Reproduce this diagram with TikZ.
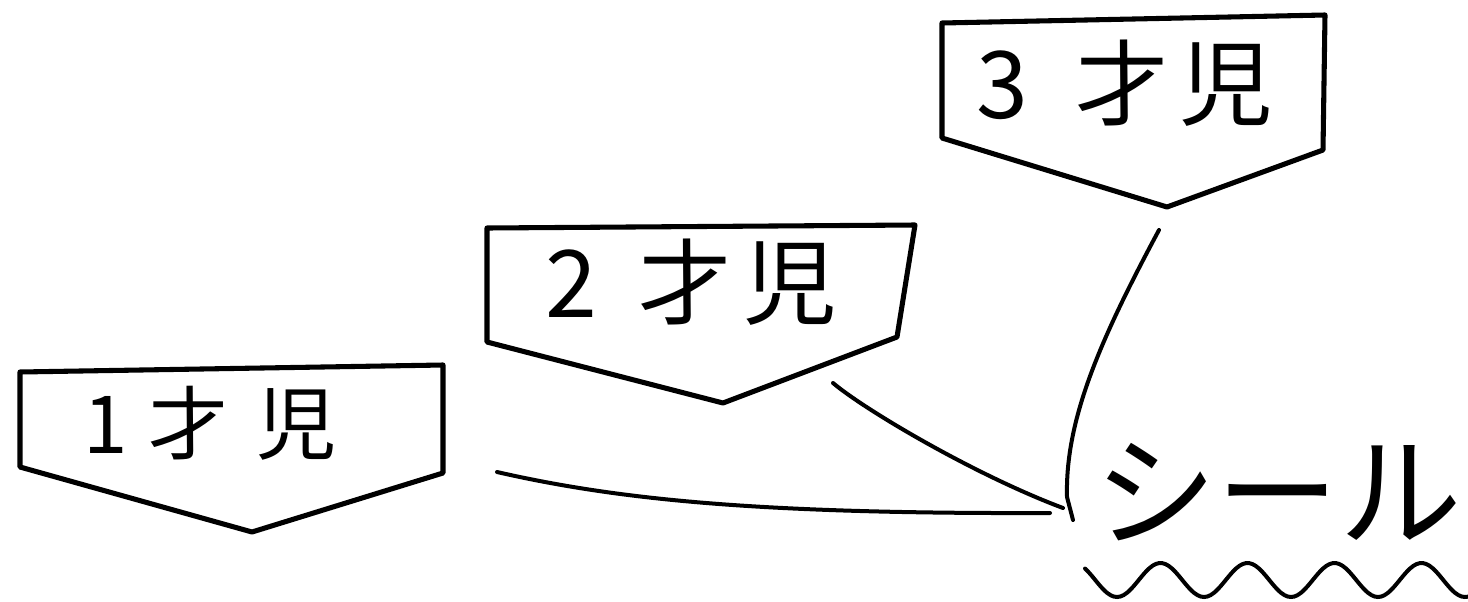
\documentclass[tikz,border=0pt]{standalone}
\usepackage{fontspec}
\newfontfamily\jpfont{Noto Sans CJK JP}
\tikzset{every picture/.style={line width=0.75pt}}
\tikzset{
  boxline/.style={line width=3.8pt, line join=round, line cap=round},
  link/.style={line width=3pt, line cap=round},
  agetext/.style={inner sep=0.75pt, font=\jpfont\fontsize{70}{70}\selectfont},
}

\begin{document}
\begin{tikzpicture}[x=0.75pt,y=0.75pt,yscale=-1,xscale=1]
\useasboundingbox (0,0) rectangle (1468,601);

%Shape: 1 year box
\draw [boxline] (20,372) -- (443,365) -- (443,473) -- (252,532) -- (20,467) -- cycle ;
%Shape: 2 year box
\draw [boxline] (487,228) -- (915,225) -- (897,337) -- (723,403) -- (487,342) -- cycle ;
%Shape: 3 year box
\draw [boxline] (942,23) -- (1325,15) -- (1323,150) -- (1167,207) -- (942,138) -- cycle ;

% Text Node
\node [agetext, font=\jpfont\fontsize{60}{60}\selectfont] (age1) at (210,423) {1\hspace{0.25em}才\hspace{0.35em}児};
% Text Node
\node [agetext] (age2) at (691,282) {2\hspace{0.45em}才\hspace{0.12em}児};
% Text Node
\node [agetext] (age3) at (1125,83) {3\hspace{0.5em}才\hspace{0.12em}児};
% Text Node
\node [inner sep=0.75pt, font=\jpfont\fontsize{92}{92}\selectfont] (seal) at (1278,492) {シール};

\coordinate (from1) at (497,472);
\coordinate (from2) at (833,383);
\coordinate (from3) at (1159,230);
\coordinate (join) at (1063,508);
\coordinate (end1) at (1050,513);
\coordinate (hook) at (1073,520);

%Curve Lines
\draw [link] (from1) .. controls (620,500) and (760,514) .. (end1) ;
\draw [link] (from2) .. controls (865,410) and (975,475) .. (join) ;
\draw [link] (from3) .. controls (1100,340) and (1065,420) .. (1067,497) -- (hook) ;

%Wavy line under the seal text
\draw [link] plot [domain=1085:1468, samples=120, smooth] (\x,{580+17*cos((\x-1117)/87*360)}) ;

\end{tikzpicture}
\end{document}
